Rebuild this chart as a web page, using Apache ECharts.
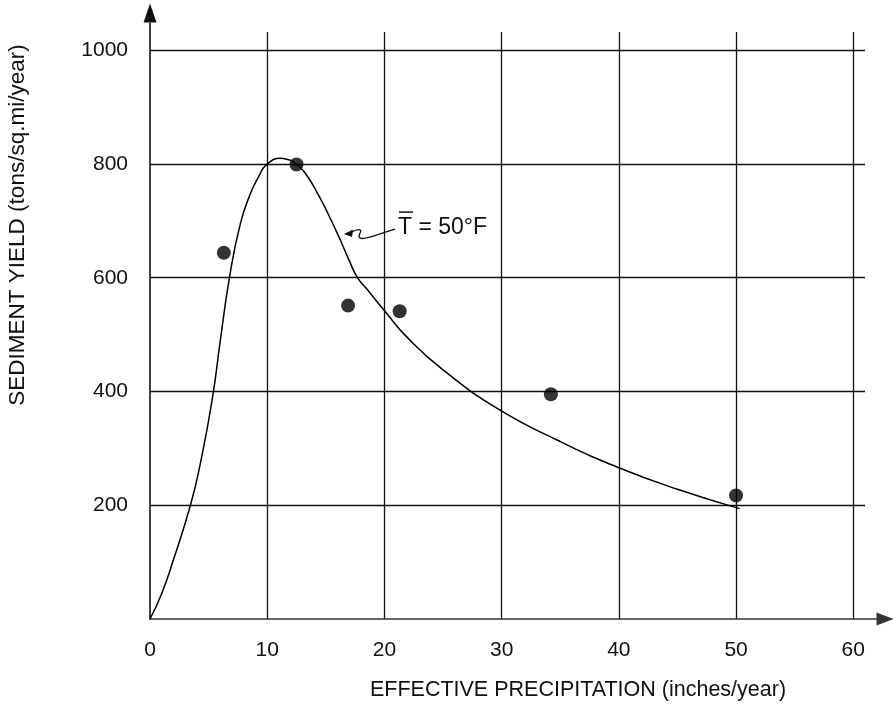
<!DOCTYPE html>
<html>
<head>
<meta charset="utf-8">
<script src="https://cdn.jsdelivr.net/npm/echarts@6/dist/echarts.min.js"></script>
<style>html,body{margin:0;padding:0;background:#fff;}#main{width:893px;height:710px;}</style>
</head>
<body>
<div id="main"></div>
<script>
// ---- data ----
var xTicks = [0, 10, 20, 30, 40, 50, 60];
var yTicks = [200, 400, 600, 800, 1000];
var curveX = [0, 1, 2, 3.45, 4.24, 5.3, 6.0, 6.8, 7.72, 8.57, 9.28, 9.9, 11.13, 12.0, 12.5, 13.2, 14.2, 15.2, 16.2, 17.0, 17.7, 18.5, 20.2, 21.9, 25, 29.8, 35, 40, 45, 50.3];
var curveY = [0, 45, 104, 200, 268, 385, 490, 603, 696, 748, 778, 798, 810, 806, 799, 785, 752, 712, 668, 630, 600, 580, 537, 496, 438, 368, 312, 266, 228, 194];
var pointX = [6.3, 12.5, 16.9, 21.3, 34.2, 50.0];
var pointY = [644, 799, 551, 541, 395, 217];
var xTitle = 'EFFECTIVE PRECIPITATION (inches/year)';
var yTitle = 'SEDIMENT YIELD (tons/sq.mi/year)';
var annotText = 'T = 50°F';
var annotAt = [21.16, 689];

var FONT = '"Liberation Sans", Arial, Helvetica, sans-serif';
var chart = echarts.init(document.getElementById('main'));

function pairs(xs, ys) { return xs.map(function (x, i) { return [x, ys[i]]; }); }

var option = {
  animation: false,
  backgroundColor: '#fff',
  grid: [
    { left: 150, top: 32, right: 28, bottom: 91 },
    { left: 150, top: 23, right: 16, bottom: 91 }
  ],
  xAxis: [
    {
      type: 'value', gridIndex: 0, min: 0, max: 61, interval: 10,
      axisLine: { show: false }, axisTick: { show: false },
      axisLabel: {
        margin: 21, fontSize: 21, color: '#111', fontFamily: FONT,
        formatter: function (v) { return xTicks.indexOf(v) >= 0 ? String(v) : ''; }
      },
      splitLine: { show: true, showMinLine: false, showMaxLine: false, lineStyle: { color: '#111', width: 1.3 } }
    },
    {
      type: 'value', gridIndex: 1, min: 0, max: 1, position: 'bottom',
      axisLine: { show: true, onZero: false, symbol: ['none', 'triangle'], symbolSize: [13, 17], symbolOffset: [0, 8], lineStyle: { color: '#333', width: 1.6 } },
      axisTick: { show: false }, axisLabel: { show: false }, splitLine: { show: false }
    }
  ],
  yAxis: [
    {
      type: 'value', gridIndex: 0, min: 0, max: 1032, interval: 200,
      axisLine: { show: false }, axisTick: { show: false },
      axisLabel: {
        margin: 22, fontSize: 21, color: '#111', fontFamily: FONT,
        formatter: function (v) { return yTicks.indexOf(v) >= 0 ? String(v) : ''; }
      },
      splitLine: { show: true, showMinLine: false, showMaxLine: false, lineStyle: { color: '#111', width: 1.3 } }
    },
    {
      type: 'value', gridIndex: 1, min: 0, max: 1, position: 'left',
      axisLine: { show: true, onZero: false, symbol: ['none', 'triangle'], symbolSize: [13, 19], symbolOffset: [0, 10], lineStyle: { color: '#111', width: 1.6 } },
      axisTick: { show: false }, axisLabel: { show: false }, splitLine: { show: false }
    }
  ],
  series: [
    {
      type: 'line', xAxisIndex: 0, yAxisIndex: 0,
      data: pairs(curveX, curveY), smooth: 0.5, showSymbol: false,
      lineStyle: { color: '#000', width: 1.5 }, z: 3
    },
    {
      type: 'scatter', xAxisIndex: 0, yAxisIndex: 0,
      data: pairs(pointX, pointY), symbolSize: 14,
      itemStyle: { color: '#000' }, z: 4
    }
  ]
};
chart.setOption(option);

// annotation anchored to data coordinates
var p = chart.convertToPixel({ gridIndex: 0 }, annotAt);
chart.setOption({
  graphic: [
    { type: 'text', x: 578, y: 690, style: { text: xTitle, font: '21.5px ' + FONT, fill: '#111', align: 'center', verticalAlign: 'middle' } },
    { type: 'text', x: 18, y: 225, rotation: Math.PI / 2, style: { text: yTitle, font: '22.5px ' + FONT, fill: '#111', align: 'center', verticalAlign: 'middle' } },
    {
      type: 'group', x: p[0], y: p[1],
      children: [
        { type: 'text', x: 0, y: 1, style: { text: annotText, font: '23px ' + FONT, fill: '#111', align: 'left', verticalAlign: 'middle' } },
        { type: 'line', shape: { x1: 1, y1: -15, x2: 15, y2: -15 }, style: { stroke: '#111', lineWidth: 1.5 } },
        { type: 'bezierCurve', shape: { x1: -3, y1: 2, cpx1: -20, cpy1: 7, cpx2: -44, cpy2: 18, x2: -38, y2: 6 }, style: { stroke: '#111', lineWidth: 1.3, fill: null } },
        { type: 'bezierCurve', shape: { x1: -38, y1: 6, cpx1: -35, cpy1: 1, cpx2: -42, cpy2: 2, x2: -46, y2: 5 }, style: { stroke: '#111', lineWidth: 1.3, fill: null } },
        { type: 'polygon', shape: { points: [[-54, 7], [-45, 2.5], [-46, 10]] }, style: { fill: '#111' } }
      ]
    }
  ]
});
</script>
</body>
</html>
